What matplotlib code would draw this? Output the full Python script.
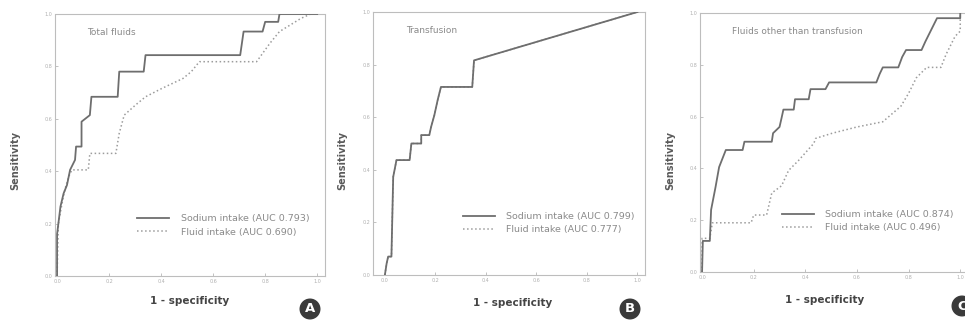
from matplotlib import pyplot as plt

# panel A - total fluids
a_sodium_x = [0, 0, 0.013, 0.025, 0.038, 0.05, 0.069, 0.073, 0.094, 0.094, 0.126, 0.132, 0.233, 0.239, 0.333, 0.34, 0.704, 0.717, 0.79, 0.80, 0.85, 0.855, 1.0]
a_sodium_y = [0, 0.16, 0.265, 0.315, 0.347, 0.405, 0.443, 0.494, 0.494, 0.589, 0.614, 0.684, 0.684, 0.78, 0.78, 0.843, 0.843, 0.933, 0.933, 0.97, 0.97, 1.0, 1.0]
a_fluid_x = [0, 0.005, 0.019, 0.03, 0.045, 0.057, 0.12, 0.126, 0.226, 0.239, 0.258, 0.302, 0.34, 0.403, 0.484, 0.516, 0.547, 0.767, 0.818, 0.855, 0.906, 0.937, 0.975, 1.0]
a_fluid_y = [0, 0.2, 0.277, 0.33, 0.38, 0.405, 0.405, 0.468, 0.468, 0.545, 0.614, 0.653, 0.684, 0.716, 0.754, 0.78, 0.818, 0.818, 0.888, 0.933, 0.964, 0.983, 1.0, 1.0]

# panel B - transfusion
b_sodium_x = [0, 0.007, 0.013, 0.026, 0.033, 0.046, 0.098, 0.105, 0.144, 0.144, 0.176, 0.183, 0.196, 0.209, 0.222, 0.346, 0.353, 1.0]
b_sodium_y = [0, 0.044, 0.07, 0.07, 0.373, 0.437, 0.437, 0.5, 0.5, 0.532, 0.532, 0.563, 0.608, 0.665, 0.715, 0.715, 0.816, 1.0]
b_fluid_x = [0, 0.007, 0.013, 0.026, 0.033, 0.046, 0.098, 0.105, 0.144, 0.144, 0.176, 0.183, 0.196, 0.209, 0.222, 0.346, 0.353, 1.0]
b_fluid_y = [0, 0.044, 0.07, 0.07, 0.373, 0.437, 0.437, 0.5, 0.5, 0.532, 0.532, 0.563, 0.608, 0.665, 0.715, 0.715, 0.816, 1.0]

# panel C - fluids other than transfusion
c_sodium_x = [0, 0.003, 0.03, 0.035, 0.052, 0.066, 0.079, 0.092, 0.157, 0.164, 0.27, 0.275, 0.30, 0.308, 0.315, 0.355, 0.36, 0.413, 0.42, 0.478, 0.492, 0.675, 0.688, 0.70, 0.76, 0.775, 0.79, 0.85, 0.865, 0.885, 0.91, 1.0, 1.0]
c_sodium_y = [0, 0.12, 0.12, 0.24, 0.327, 0.405, 0.438, 0.471, 0.471, 0.503, 0.503, 0.536, 0.56, 0.595, 0.627, 0.627, 0.667, 0.667, 0.706, 0.706, 0.732, 0.732, 0.765, 0.79, 0.79, 0.83, 0.857, 0.857, 0.89, 0.93, 0.98, 0.98, 1.0]
c_fluid_x = [0, 0, 0.03, 0.04, 0.19, 0.2, 0.25, 0.27, 0.308, 0.335, 0.374, 0.433, 0.44, 0.505, 0.60, 0.70, 0.77, 0.80, 0.83, 0.87, 0.925, 0.945, 0.98, 1.0, 1.0]
c_fluid_y = [0, 0.13, 0.13, 0.19, 0.19, 0.22, 0.22, 0.305, 0.333, 0.392, 0.431, 0.497, 0.516, 0.536, 0.56, 0.58, 0.64, 0.69, 0.75, 0.79, 0.79, 0.84, 0.91, 0.93, 1.0]

titles = ['Total fluids', 'Transfusion', 'Fluids other than transfusion']
sodium_labels = ['Sodium intake (AUC 0.793)', 'Sodium intake (AUC 0.799)', 'Sodium intake (AUC 0.874)']
fluid_labels = ['Fluid intake (AUC 0.690)', 'Fluid intake (AUC 0.777)', 'Fluid intake (AUC 0.496)']
letters = ['A', 'B', 'C']
ticks = [0.0, 0.2, 0.4, 0.6, 0.8, 1.0]

W, H = 965, 329
# pixel boxes: left, top, right, bottom, xmin
boxes = [(55, 14, 325, 276, -0.008), (373, 12, 645, 275, -0.047), (700, 13, 968, 272, -0.008)]
leg_anchor = [(0.305, 0.235), (0.33, 0.24), (0.305, 0.24)]
sens_x = [15, 342, 670]
spec_pos = [(190, 301), (513, 303), (825, 300)]
circle_pos = [(310, 309), (630, 309), (962, 306)]

def drawPanel(fig, i, sx, sy, fx, fy):
	l, t, r, b, xmin = boxes[i]
	ax = fig.add_axes([l/W, 1-b/H, (r-l)/W, (b-t)/H])
	ax.plot(fx, fy, color='#9c9c9c', lw=1.1, ls=':', label=fluid_labels[i], zorder=2)
	ax.plot(sx, sy, color='#6e6e6e', lw=1.3, label=sodium_labels[i], zorder=3)
	ax.set_xlim(xmin, 1.03)
	ax.set_ylim(0, 1.0)
	ax.set_xticks(ticks)
	ax.set_yticks(ticks)
	ax.set_xticklabels(['%.1f' % v for v in ticks])
	ax.set_yticklabels(['%.1f' % v for v in ticks])
	ax.tick_params(labelsize=3.5, labelcolor='#b0b0b0', color='#b8b8b8', length=2, width=0.6, pad=2, direction='in')
	for s in ax.spines.values():
		s.set_color('#bdbdbd')
		s.set_linewidth(0.8)
		s.set_linestyle((0, (3, 1)))
	ax.text(0.12, 0.93, titles[i], transform=ax.transAxes, fontsize=6.5, color='#8a8a8a', va='center')
	h, lab = ax.get_legend_handles_labels()
	ax.legend([h[1], h[0]], [lab[1], lab[0]], loc='upper left', bbox_to_anchor=leg_anchor[i], frameon=False,
		fontsize=6.8, labelcolor='#8a8a8a', handlelength=3.4, handletextpad=1.2, labelspacing=0.45, borderpad=0, borderaxespad=0)
	fig.text(sens_x[i]/W, 1-160/H, 'Sensitivity', rotation=90, fontsize=7, fontweight='bold', color='#5a5a5a', ha='center', va='center')
	fig.text(spec_pos[i][0]/W, 1-spec_pos[i][1]/H, '1 - specificity', fontsize=7.5, fontweight='bold', color='#444444', ha='center', va='center')
	fig.text(circle_pos[i][0]/W, 1-circle_pos[i][1]/H, letters[i], fontsize=9.5, fontweight='bold', color='white', ha='center', va='center',
		bbox=dict(boxstyle='circle,pad=0.25', fc='#3a3a3a', ec='#3a3a3a'))

if __name__=='__main__':
	fig = plt.figure(figsize=(9.65, 3.29), dpi=100)
	drawPanel(fig, 0, a_sodium_x, a_sodium_y, a_fluid_x, a_fluid_y)
	drawPanel(fig, 1, b_sodium_x, b_sodium_y, b_fluid_x, b_fluid_y)
	drawPanel(fig, 2, c_sodium_x, c_sodium_y, c_fluid_x, c_fluid_y)
	fig.savefig('out.png', dpi=100)
